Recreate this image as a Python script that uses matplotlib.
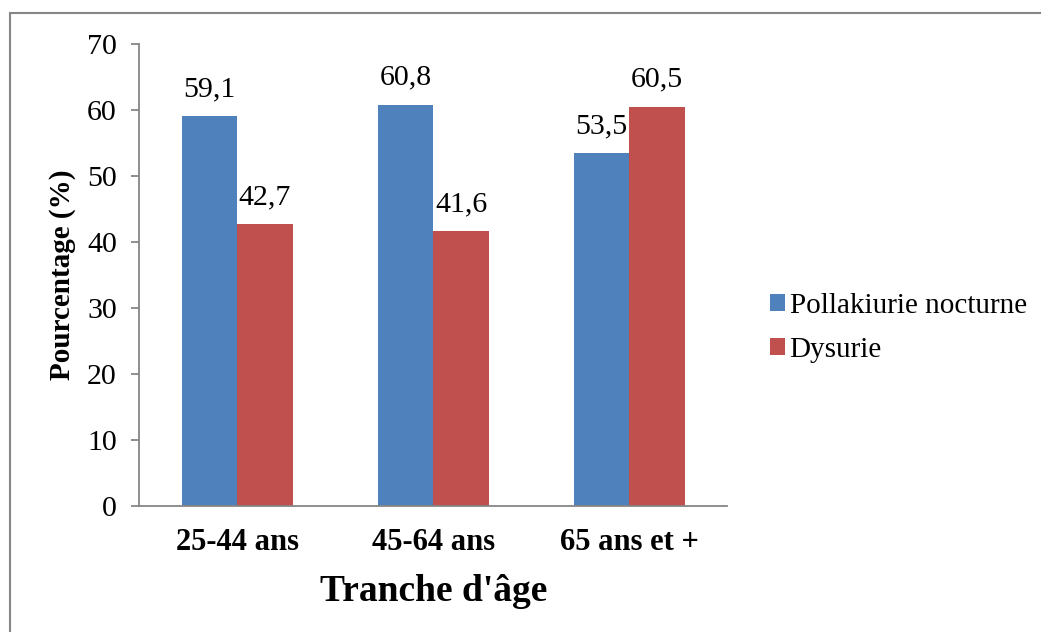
import matplotlib
matplotlib.use("Agg")
import matplotlib.pyplot as plt
from matplotlib.patches import Rectangle
import numpy as np

categories = ["25-44 ans", "45-64 ans", "65 ans et +"]
pollakiurie = [59.1, 60.8, 53.5]
dysurie = [42.7, 41.6, 60.5]
series_names = ["Pollakiurie nocturne", "Dysurie"]
yticks = [0, 10, 20, 30, 40, 50, 60, 70]

plt.rcParams['font.family'] = ['Liberation Serif', 'DejaVu Serif']

fig = plt.figure(figsize=(10.41, 6.32), dpi=100)
ax = fig.add_axes([139/1041, 1-506/632, (727.5-139)/1041, (506-44)/632])

x = np.arange(len(categories))
w = 0.283
b1 = ax.bar(x - w/2, pollakiurie, w, color="#4F81BD", label=series_names[0])
b2 = ax.bar(x + w/2, dysurie, w, color="#C0504D", label=series_names[1])

def fmt(v):
    return f"{v:.1f}".replace(".", ",")

for bars, vals in ((b1, pollakiurie), (b2, dysurie)):
    for r, v in zip(bars, vals):
        ax.annotate(fmt(v), (r.get_x() + r.get_width()/2, v), xytext=(0, 10),
                    textcoords="offset points", ha="center", va="bottom", fontsize=21.5)

ax.set_xlim(-0.5, 2.5)
ax.set_ylim(0, 70)
ax.set_yticks(yticks)
ax.set_yticklabels([str(t) for t in yticks], fontsize=21.5)
ax.set_xticks(x)
ax.set_xticklabels(categories, fontsize=22, fontweight="bold")
ax.tick_params(axis="x", length=0, pad=16)
ax.tick_params(axis="y", length=6, width=1.3, color="#868686", pad=10)
for s in ("top", "right"):
    ax.spines[s].set_visible(False)
for s in ("left", "bottom"):
    ax.spines[s].set_color("#868686")
    ax.spines[s].set_linewidth(1.3)

ax.set_ylabel("Pourcentage (%)", fontsize=21, fontweight="bold", labelpad=8)
ax.set_xlabel("Tranche d'âge", fontsize=27, fontweight="bold", labelpad=12)

fig.legend(handles=[b1, b2], labels=series_names, loc="center left",
           bbox_to_anchor=(770/1041, 1-328/632), frameon=False, fontsize=21,
           handlelength=0.52, handleheight=0.52, handletextpad=0.15, labelspacing=0.6,
           borderpad=0, borderaxespad=0)

fig.patches.append(Rectangle((10/1041, -0.2), 1.5, 1 - 13/632 + 0.2, transform=fig.transFigure,
                             fill=False, edgecolor="#868686", linewidth=1.5))

fig.savefig("out.png", dpi=100, facecolor="white")
